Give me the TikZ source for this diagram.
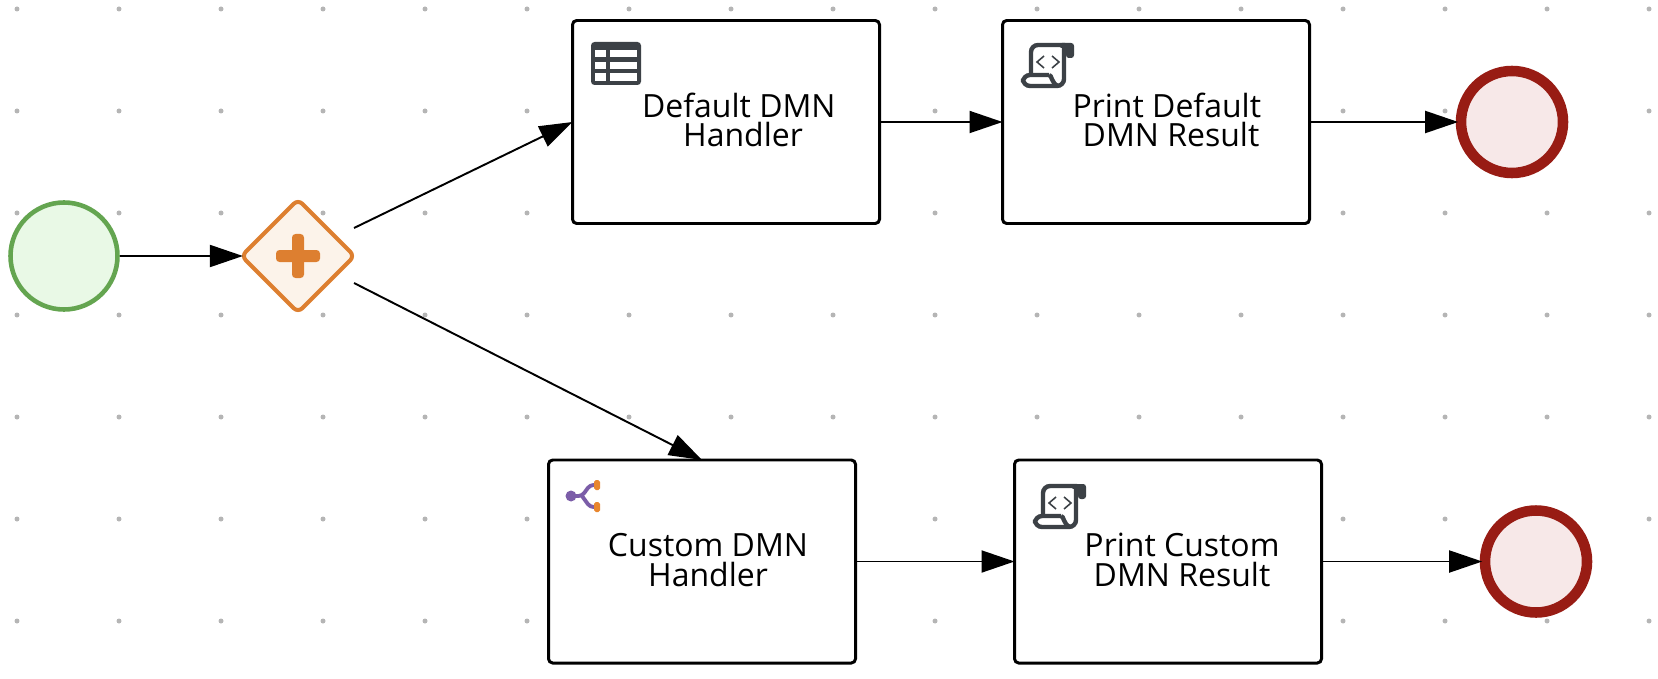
\documentclass[tikz,border=0pt]{standalone}
\usepackage{fontspec}
\setmainfont{Open Sans}
\usetikzlibrary{arrows.meta, shapes.geometric}
\definecolor{startgreen}{HTML}{64A550}
\definecolor{startfill}{HTML}{E9F9E6}
\definecolor{gateorange}{HTML}{DD7F30}
\definecolor{gatefill}{HTML}{FCF3EA}
\definecolor{endred}{HTML}{981C14}
\definecolor{endfill}{HTML}{F7E8E8}
\definecolor{icongray}{HTML}{3C4146}
\definecolor{dotgray}{HTML}{B5B5B5}
\definecolor{decisionpurple}{HTML}{7B5DA8}
\definecolor{decisionorange}{HTML}{E8862E}
\tikzset{
	flow/.style={draw=black, line width=0.55pt, -{Triangle[length=3.3mm, width=2.2mm]}},
	startevent/.style={circle, draw=startgreen, fill=startfill, line width=1.3pt, minimum size=1.07cm, inner sep=0},
	endevent/.style={circle, draw=endred, fill=endfill, line width=3pt, minimum size=1.02cm, inner sep=0, outer sep=0.8pt},
	gateway/.style={diamond, aspect=1, draw=gateorange, fill=gatefill, line width=1.14pt, rounded corners=1.7pt, minimum size=1.13cm, inner sep=0, outer sep=0},
	taskbox/.style={rectangle, draw=black, fill=white, line width=0.85pt, rounded corners=1.2pt, minimum width=3.07cm, minimum height=2.03cm, inner sep=0, outer sep=0},
	tasklabel/.style={align=center, font=\fontsize{9.1pt}{8.42pt}\selectfont, inner sep=0},
	scripticon/.pic={
		\fill[icongray, rounded corners=0.8pt] (0.38, -0.01) -- (0.53, -0.01) -- (0.53, -0.16) -- (0.45, -0.16) -- (0.45, -0.06) -- (0.38, -0.06) -- cycle;
		\draw[icongray, line width=1.25pt, rounded corners=2pt] (0.10, -0.32) -- (0.10, -0.03) -- (0.44, -0.03);
		\draw[icongray, line width=1.25pt, rounded corners=2pt] (0.43, -0.05) -- (0.43, -0.44) -- (0.02, -0.44) -- (0.02, -0.33) -- (0.28, -0.33);
		\draw[icongray, line width=1.25pt] (0.28, -0.33) .. controls (0.31, -0.33) and (0.30, -0.41) .. (0.37, -0.44);
		\draw[icongray, line width=0.45pt] (0.23, -0.14) -- (0.16, -0.20) -- (0.23, -0.26);
		\draw[icongray, line width=0.45pt] (0.31, -0.14) -- (0.38, -0.20) -- (0.31, -0.26);
	}
}
\begin{document}
\begin{tikzpicture}
	\useasboundingbox (0, 0) rectangle (16.58, 6.78);
	\foreach \x in {0, 1, ..., 16}
		\foreach \y in {0, 1, ..., 6}
			\fill[dotgray] (0.17 + 1.02 * \x, 0.57 + 1.02 * \y) circle (0.025);

	\node[startevent] (start) at (0.64, 4.22) {};
	\node[gateway] (gate) at (2.98, 4.22) {};
	\fill[gateorange, rounded corners=1pt] (2.76, 4.16) rectangle (3.20, 4.28);
	\fill[gateorange, rounded corners=1pt] (2.92, 4.00) rectangle (3.04, 4.44);
	\coordinate (gateup) at (3.54, 4.50);
	\coordinate (gatedown) at (3.54, 3.95);

	\node[taskbox] (defaulttask) at (7.26, 5.56) {};
	\node[taskbox] (printdefault) at (11.56, 5.56) {};
	\node[taskbox] (customtask) at (7.02, 1.165) {};
	\node[taskbox] (printcustom) at (11.68, 1.165) {};
	\node[endevent] (enddefault) at (15.12, 5.56) {};
	\node[endevent] (endcustom) at (15.36, 1.165) {};

	\node[tasklabel] (defaultlabel) at (7.43, 5.58) {Default DMN\hspace*{.26em}\\Handler};
	\node[tasklabel] (printdefaultlabel) at (11.71, 5.58) {Print Default\hspace*{.26em}\\DMN Result};
	\node[tasklabel] (customlabel) at (7.08, 1.18) {Custom DMN\\Handler};
	\node[tasklabel] (printcustomlabel) at (11.82, 1.18) {Print Custom\\DMN Result};

	\draw[flow, shorten >=-0.4pt] (start) -- (gate);
	\draw[flow] (gateup) -- (defaulttask.west);
	\draw[flow] (gatedown) -- (customtask.north);
	\draw[flow] (defaulttask) -- (printdefault);
	\draw[flow] (printdefault) -- (enddefault);
	\draw[flow] (customtask) -- (printcustom);
	\draw[flow] (printcustom) -- (endcustom);

	% table icon
	\fill[icongray, rounded corners=1pt] (5.91, 6.36) rectangle (6.41, 5.93);
	\foreach \y in {6.205, 6.085, 5.97} {
		\fill[white] (5.95, \y) rectangle (6.06, \y + 0.075);
		\fill[white] (6.10, \y) rectangle (6.37, \y + 0.075);
	}

	\pic at (10.21, 6.36) {scripticon};
	\pic at (10.33, 1.95) {scripticon};

	% decision icon
	\draw[decisionpurple, line width=1.1pt, rounded corners=1pt] (5.71, 1.82) -- (5.82, 1.82) -- (5.90, 1.93) -- (5.96, 1.93);
	\draw[decisionpurple, line width=1.1pt, rounded corners=1pt] (5.82, 1.82) -- (5.90, 1.71) -- (5.96, 1.71);
	\fill[decisionpurple] (5.71, 1.82) circle (0.055);
	\fill[decisionorange, rounded corners=0.5pt] (5.94, 1.88) rectangle (6.00, 1.98);
	\fill[decisionorange, rounded corners=0.5pt] (5.94, 1.66) rectangle (6.00, 1.76);
\end{tikzpicture}
\end{document}
